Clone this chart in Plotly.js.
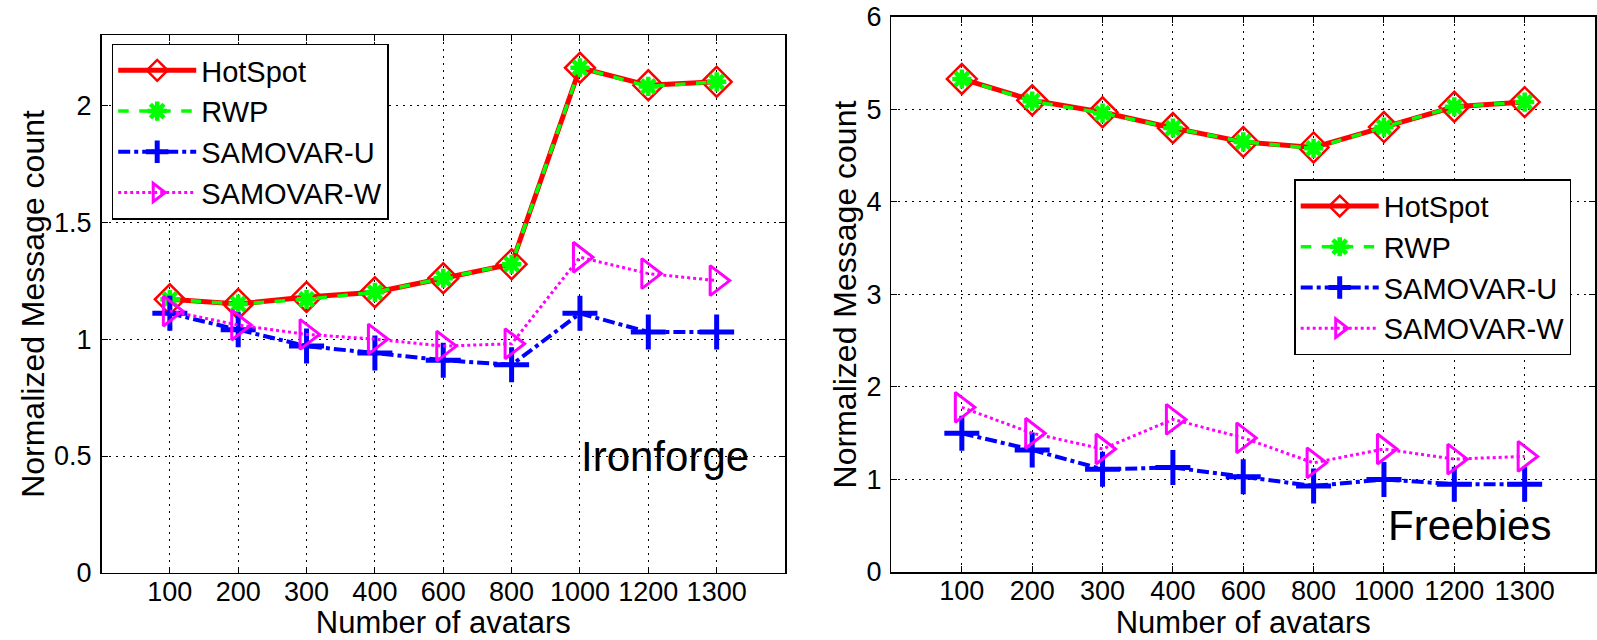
<!DOCTYPE html>
<html>
<head>
<meta charset="utf-8">
<script src="https://cdn.plot.ly/plotly-3.0.1.min.js"></script>
<style>html,body{margin:0;padding:0;background:#fff;}#chart{width:1597px;height:640px;}</style>
</head>
<body>
<div id="chart"></div>
<script>
// ---- data ----
const avatars = ['100','200','300','400','600','800','1000','1200','1300'];
const seriesNames = ['HotSpot','RWP','SAMOVAR-U','SAMOVAR-W'];

// Ironforge (left panel)
const ironHotSpot  = [1.17, 1.15, 1.18, 1.20, 1.26, 1.32, 2.16, 2.085, 2.10];
const ironRWP      = [1.17, 1.15, 1.17, 1.20, 1.26, 1.32, 2.16, 2.08, 2.10];
const ironSamovarU = [1.11, 1.04, 0.97, 0.94, 0.91, 0.89, 1.11, 1.03, 1.03];
const ironSamovarW = [1.12, 1.06, 1.02, 1.00, 0.97, 0.98, 1.35, 1.28, 1.25];

// Freebies (right panel)
const freeHotSpot  = [5.33, 5.10, 4.97, 4.80, 4.65, 4.59, 4.81, 5.03, 5.08];
const freeRWP      = [5.33, 5.09, 4.96, 4.80, 4.65, 4.58, 4.81, 5.03, 5.08];
const freeSamovarU = [1.50, 1.32, 1.11, 1.13, 1.03, 0.93, 1.00, 0.95, 0.95];
const freeSamovarW = [1.78, 1.50, 1.33, 1.65, 1.45, 1.18, 1.33, 1.22, 1.25];

const leftTicks  = [0, 0.5, 1, 1.5, 2];
const rightTicks = [0, 1, 2, 3, 4, 5, 6];
const xTitle = 'Number of avatars';
const yTitle = 'Normalized Message count';
const panelLabels = ['Ironforge', 'Freebies'];

// ---- styles ----
const FONT = 'Arial, "Liberation Sans", Helvetica, sans-serif';
const styles = [
  {color:'#ff0000', dash:'solid',   width:5,   symbol:'diamond-open',        size:23, mlw:2.5},
  {color:'#00ff00', dash:'dash',    width:3.5, symbol:'asterisk-open',       size:16, mlw:4.5},
  {color:'#0000ff', dash:'dashdot', width:4,   symbol:'cross-thin-open',     size:25, mlw:5},
  {color:'#ff00ff', dash:'dot',     width:3,   symbol:'triangle-right-open', size:26, mlw:3}
];

function mk(name, ys, idx, xa, ya, legendId) {
  const s = styles[idx];
  return {
    type:'scatter', mode:'lines+markers', name:name,
    x: avatars, y: ys, xaxis: xa, yaxis: ya, legend: legendId,
    line:{color:s.color, dash:s.dash, width:s.width},
    marker:{symbol:s.symbol, size:s.size, color:s.color, line:{color:s.color, width:s.mlw}},
    cliponaxis:false
  };
}

const leftSets  = [ironHotSpot, ironRWP, ironSamovarU, ironSamovarW];
const rightSets = [freeHotSpot, freeRWP, freeSamovarU, freeSamovarW];
const data = [];
leftSets.forEach((ys,i)=>data.push(mk(seriesNames[i], ys, i, 'x', 'y', 'legend')));
rightSets.forEach((ys,i)=>data.push(mk(seriesNames[i], ys, i, 'x2', 'y2', 'legend2')));

const GRIDDASH = '2px,5px';

function xaxisCfg(domain, anchor) {
  return {
    domain: domain, anchor: anchor, type:'category', range:[-1, 9],
    tickmode:'array', tickvals: avatars, ticktext: avatars,
    showline:true, linecolor:'#000', linewidth:1.5, mirror:'ticks',
    ticks:'inside', ticklen:6, tickcolor:'#000', tickwidth:1,
    showgrid:true, gridcolor:'#000', griddash:GRIDDASH, gridwidth:1,
    tickfont:{family:FONT, size:27, color:'#000'}, ticklabelstandoff:-6,
    title:{text:xTitle, font:{family:FONT, size:31, color:'#000'}, standoff:24},
    zeroline:false, automargin:false, fixedrange:true
  };
}
function yaxisCfg(domain, anchor, range, ticks) {
  return {
    domain: domain, anchor: anchor, range: range,
    tickmode:'array', tickvals: ticks, ticktext: ticks.map(String),
    showline:true, linecolor:'#000', linewidth:1.5, mirror:'ticks',
    ticks:'inside', ticklen:6, tickcolor:'#000', tickwidth:1,
    showgrid:true, gridcolor:'#000', griddash:GRIDDASH, gridwidth:1,
    tickfont:{family:FONT, size:27, color:'#000'}, ticklabelstandoff:3,
    title:{text:yTitle, font:{family:FONT, size:32, color:'#000'}, standoff:0},
    zeroline:false, automargin:false, fixedrange:true
  };
}

const legendBase = {
  bgcolor:'#fff', bordercolor:'#000', borderwidth:1.5,
  font:{family:FONT, size:29, color:'#000'},
  xanchor:'left', yanchor:'top', itemwidth:78, tracegroupgap:0,
  itemclick:false, itemdoubleclick:false
};

const layout = {
  width:1597, height:640,
  margin:{l:0, r:0, t:0, b:0, autoexpand:false},
  paper_bgcolor:'#fff', plot_bgcolor:'#fff',
  showlegend:true,
  xaxis:  xaxisCfg([0.06356, 0.49155], 'y'),
  yaxis:  yaxisCfg([0.1047, 0.9453], 'x', [0, 2.3], leftTicks),
  xaxis2: xaxisCfg([0.55823, 0.99875], 'y2'),
  yaxis2: yaxisCfg([0.10625, 0.97344], 'x2', [0, 6], rightTicks),
  legend:  Object.assign({}, legendBase, {x:0.06995, y:0.932}),
  legend2: Object.assign({}, legendBase, {x:0.8104, y:0.720}),
  annotations:[
    {xref:'x', yref:'y', x:7.24, y:0.5, text:panelLabels[0], showarrow:false,
     xanchor:'center', yanchor:'middle', font:{family:FONT, size:42, color:'#000'}},
    {xref:'x2', yref:'y2', x:7.21, y:0.5, text:panelLabels[1], showarrow:false,
     xanchor:'center', yanchor:'middle', font:{family:FONT, size:42, color:'#000'}}
  ]
};

Plotly.newPlot('chart', data, layout, {displayModeBar:false, staticPlot:true});
</script>
</body>
</html>
